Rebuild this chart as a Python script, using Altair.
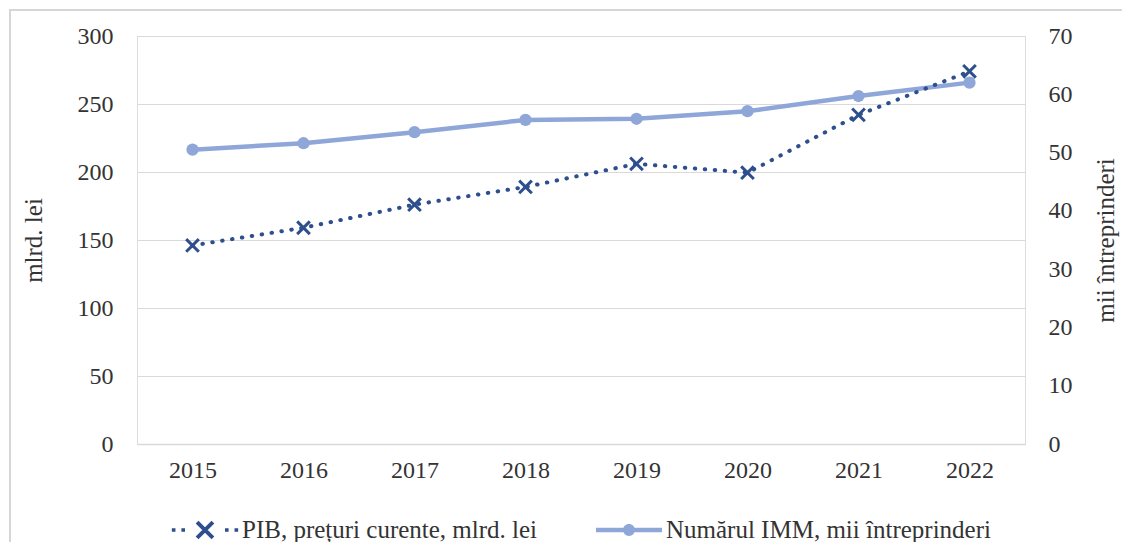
import altair as alt
import pandas as pd

# ---- data ----
years = [2015, 2016, 2017, 2018, 2019, 2020, 2021, 2022]
pib = [146, 159, 176, 189, 206, 199.5, 242, 274]          # mlrd. lei (left axis)
imm = [50.5, 51.6, 53.5, 55.6, 55.8, 57.1, 59.7, 62.0]    # mii întreprinderi (right axis)
series = ["PIB, prețuri curente, mlrd. lei", "Numărul IMM, mii întreprinderi"]
left_ticks = [0, 50, 100, 150, 200, 250, 300]
right_ticks = [0, 10, 20, 30, 40, 50, 60, 70]

# ---- styles ----
DARK = "#2E4F8E"
LIGHT = "#8FA6D9"
GRID = "#d9d9d9"
TXT = "#333333"
FONT = "Liberation Serif, Times New Roman, serif"
FS = 24
FT = 25
SYM_W = 66


def sq(cx, h):
    return f"M{cx-h},{-h}L{cx+h},{-h}L{cx+h},{h}L{cx-h},{h}Z"


def x_glyph(a, w):
    b1 = f"M{-a+w},{-a-w}L{a+w},{a-w}L{a-w},{a+w}L{-a-w},{-a+w}Z"
    b2 = f"M{-a-w},{a-w}L{a-w},{-a-w}L{a+w},{-a+w}L{-a+w},{a+w}Z"
    return b1 + b2


pib_symbol = "".join(sq(c, 0.055) for c in (-0.95, -0.66, 0.66, 0.95)) + x_glyph(0.24, 0.042)
r = 0.18
imm_symbol = (f"M-1,-0.065L1,-0.065L1,0.065L-1,0.065Z"
              f"M{-r},0A{r},{r} 0 1,1 {r},0A{r},{r} 0 1,1 {-r},0Z")
x_marker = "M-1,-1L1,1M-1,1L1,-1"

df = pd.DataFrame({"year": years, "pib": pib, "imm": imm})
leg_df = pd.DataFrame({"year": [years[0]] * 2, "pib": [pib[0]] * 2, "series": series})

x_enc = alt.X(
    "year:O",
    scale=alt.Scale(type="point", padding=0.5),
    axis=alt.Axis(title=None, labelAngle=0, ticks=False, domain=True,
                  domainColor=GRID, domainWidth=1.5, grid=False,
                  labelFont=FONT, labelFontSize=FS, labelColor=TXT, labelPadding=14),
)

y_left = alt.Y(
    "pib:Q",
    scale=alt.Scale(domain=[0, 300]),
    axis=alt.Axis(orient="left", values=left_ticks, title="mlrd. lei", grid=True,
                  gridColor=GRID, gridWidth=1.2, domain=False, ticks=False,
                  labelFont=FONT, labelFontSize=FS, labelColor=TXT, labelPadding=24,
                  titleFont=FONT, titleFontSize=FT, titleFontWeight="normal",
                  titleColor=TXT, titlePadding=31),
)

y_right = alt.Y(
    "imm:Q",
    scale=alt.Scale(domain=[0, 70]),
    axis=alt.Axis(orient="right", values=right_ticks, title="mii întreprinderi", grid=False,
                  domain=False, ticks=False,
                  labelFont=FONT, labelFontSize=FS, labelColor=TXT, labelPadding=23,
                  titleFont=FONT, titleFontSize=FT, titleFontWeight="normal",
                  titleColor=TXT, titlePadding=46, titleAngle=270),
)

base = alt.Chart(df)

imm_line = base.mark_line(color=LIGHT, strokeWidth=4.5).encode(x=x_enc, y=y_right)
imm_pts = base.mark_point(shape="circle", filled=True, color=LIGHT, size=150, opacity=1).encode(x=x_enc, y=y_right)
imm_group = alt.layer(imm_line, imm_pts)

pib_line = base.mark_line(color=DARK, strokeWidth=4, strokeDash=[0.5, 9.5], strokeCap="round").encode(x=x_enc, y=y_left)
pib_pts = base.mark_point(shape=x_marker, filled=False, color=DARK, size=160, strokeWidth=3, opacity=1).encode(x=x_enc, y=y_left)

leg = alt.Legend(title=None, orient="none", legendX=35, legendY=461,
                 direction="horizontal", symbolSize=SYM_W * SYM_W,
                 symbolOpacity=1, symbolStrokeWidth=0,
                 labelFont=FONT, labelFontSize=FT, labelColor=TXT, labelLimit=0,
                 labelOffset=4, columnPadding=58, padding=0)

legend_layer = alt.Chart(leg_df).mark_point(filled=True, opacity=0).encode(
    x=x_enc,
    y=y_left,
    color=alt.Color("series:N", scale=alt.Scale(domain=series, range=[DARK, LIGHT]), legend=leg),
    shape=alt.Shape("series:N", scale=alt.Scale(domain=series, range=[pib_symbol, imm_symbol]), legend=leg),
)

frame = alt.Chart(pd.DataFrame({"k": [0]})).mark_rect(
    fill="white", fillOpacity=0, stroke="#d6d6d6", strokeWidth=2
).encode(x=alt.value(-127), x2=alt.value(1060), y=alt.value(-26), y2=alt.value(560))

pib_group = alt.layer(pib_line, pib_pts, legend_layer)

chart = alt.layer(frame, imm_group, pib_group).resolve_scale(
    y="independent", color="independent", shape="independent"
).properties(
    width=888, height=408,
    padding={"left": 129, "top": 28, "right": 97, "bottom": 98},
    autosize=alt.AutoSizeParams(type="none"),
    background="white",
).configure_view(stroke=None).configure_legend(
    labelFont=FONT, labelLimit=0
).configure_axis(labelFont=FONT, titleFont=FONT).configure(font=FONT)

chart.save("out.html", embed_options={"renderer": "svg", "actions": False})
